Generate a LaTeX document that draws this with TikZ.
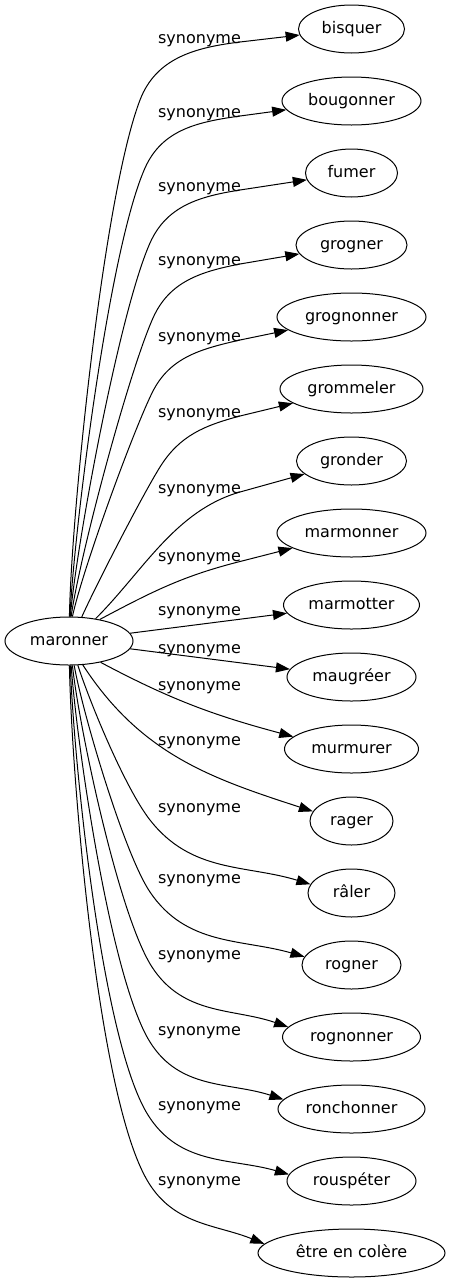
\documentclass[tikz,border=0pt]{standalone}
\usepackage{fontspec}
\setmainfont{DejaVu Sans}
\usetikzlibrary{arrows.meta,shapes.geometric}
\begin{document}
\begin{tikzpicture}[x=1pt,y=1pt,
  word/.style={draw, ellipse, line width=1pt, minimum height=48pt, inner sep=0pt,
    text height=9pt, text depth=0pt, font=\fontsize{16pt}{19pt}\selectfont},
  rel/.style={anchor=base, inner sep=0pt, font=\fontsize{16pt}{19pt}\selectfont},
  edge/.style={line width=1pt, -{Triangle[length=14pt,width=10pt]}}]
\path[fill=white,use as bounding box] (0,0) rectangle (450,-1283);

% nodes
\node[word, minimum width=128pt] (m) at (69,-641) {maronner};
\node[word, minimum width=106pt] (n1) at (351.5,-29) {bisquer};
\node[word, minimum width=139pt] (n2) at (351.5,-101) {bougonner};
\node[word, minimum width=92pt] (n3) at (351.5,-173) {fumer};
\node[word, minimum width=111pt] (n4) at (351.5,-245) {grogner};
\node[word, minimum width=149pt] (n5) at (351.5,-317) {grognonner};
\node[word, minimum width=143pt] (n6) at (351.5,-389) {grommeler};
\node[word, minimum width=110pt] (n7) at (351.5,-461) {gronder};
\node[word, minimum width=149pt] (n8) at (351.5,-533) {marmonner};
\node[word, minimum width=136pt] (n9) at (351.5,-605) {marmotter};
\node[word, minimum width=129pt] (n10) at (351.5,-677) {maugréer};
\node[word, minimum width=134pt] (n11) at (351.5,-749) {murmurer};
\node[word, minimum width=83pt] (n12) at (351.5,-821) {rager};
\node[word, minimum width=87pt] (n13) at (351.5,-893) {râler};
\node[word, minimum width=99pt] (n14) at (351.5,-965) {rogner};
\node[word, minimum width=138pt] (n15) at (351.5,-1037) {rognonner};
\node[word, minimum width=147pt] (n16) at (351.5,-1109) {ronchonner};
\node[word, minimum width=129pt] (n17) at (351.5,-1181) {rouspéter};
\node[word, minimum width=187pt] (n18) at (351.5,-1253) {être en colère};

% edge labels
\node[rel] (s1) at (199.5,-43) {synonyme};
\node[rel] (s2) at (199.5,-117) {synonyme};
\node[rel] (s3) at (199.5,-191) {synonyme};
\node[rel] (s4) at (199.5,-265) {synonyme};
\node[rel] (s5) at (199.5,-341) {synonyme};
\node[rel] (s6) at (199.5,-417) {synonyme};
\node[rel] (s7) at (199.5,-493) {synonyme};
\node[rel] (s8) at (199.5,-561) {synonyme};
\node[rel] (s9) at (199.5,-615) {synonyme};
\node[rel] (s10) at (199.5,-653) {synonyme};
\node[rel] (s11) at (199.5,-690) {synonyme};
\node[rel] (s12) at (199.5,-745) {synonyme};
\node[rel] (s13) at (199.5,-812) {synonyme};
\node[rel] (s14) at (199.5,-883) {synonyme};
\node[rel] (s15) at (199.5,-959) {synonyme};
\node[rel] (s16) at (199.5,-1035) {synonyme};
\node[rel] (s17) at (199.5,-1110) {synonyme};
\node[rel] (s18) at (199.5,-1185) {synonyme};

% upper edges
\draw[edge] (m.89) to[out=89,in=249,looseness=0.5] (140,-100) to[out=69,in=187] (240,-42) -- (n1);
\draw[edge] (m.88) to[out=87,in=246,looseness=0.5] (145,-168) to[out=66,in=188] (240,-116) -- (n2);
\draw[edge] (m.87) to[out=85,in=246,looseness=0.5] (150,-243) to[out=66,in=189] (240,-190) -- (n3);
\draw[edge] (m.85) to[out=82,in=246,looseness=0.5] (153,-318) to[out=66,in=191] (240,-264) -- (n4);
\draw[edge] (m.82) to[out=78,in=244,looseness=0.5] (152,-393) to[out=64,in=193] (240,-340) -- (n5);
\draw[edge] (m.62) to[out=66,in=238,looseness=0.5] (160,-467) to[out=58,in=195] (240,-416) -- (n6);
\draw[edge] (m.40) to[out=45,in=196,looseness=0.9] (240,-492) -- (n7);
\draw[edge] (m.35) to[out=28,in=194] (242,-561) -- (n8);
% middle edges
\draw[edge] (m) -- (n9);
\draw[edge] (m) -- (n10);
% lower edges
\draw[edge] (m.-34) to[out=-28,in=165] (n11.168);
\draw[edge] (m.-60) to[out=-57,in=162] (n12.166);
\draw[edge] (m.-70) to[out=-72,in=128,looseness=0.6] (150,-820) to[out=-52,in=163] (n13.168);
\draw[edge] (m.-78) to[out=-80,in=124,looseness=0.5] (150,-892) to[out=-56,in=164] (n14.170);
\draw[edge] (m.-82) to[out=-84,in=123,looseness=0.5] (152,-967) to[out=-57,in=161] (n15.171);
\draw[edge] (m.-85) to[out=-86,in=122,looseness=0.5] (150,-1042) to[out=-58,in=162] (n16.172);
\draw[edge] (m.-87) to[out=-88,in=122,looseness=0.5] (148,-1115) to[out=-58,in=164] (n17.174);
\draw[edge] (m.-89) to[out=-89,in=120,looseness=0.5] (147,-1180) to[out=-60,in=158] (n18.174);
\end{tikzpicture}
\end{document}
